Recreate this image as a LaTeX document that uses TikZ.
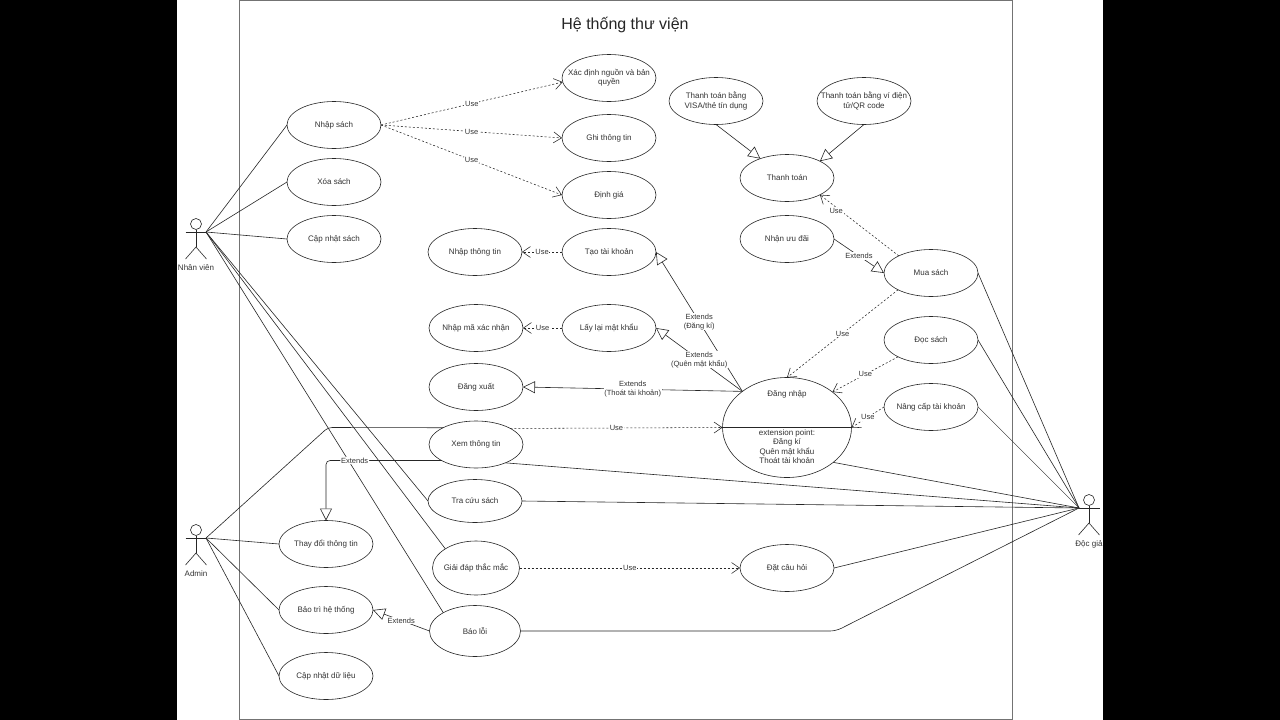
\documentclass[tikz,border=0pt]{standalone}
\usepackage{fontspec}
\setmainfont{Liberation Sans}
\usetikzlibrary{arrows.meta,shapes.geometric}
\tikzset{
  usecase/.style={ellipse,draw=black!85,fill=white,line width=.6pt,minimum width=94pt,minimum height=47pt,inner xsep=-14pt,inner ysep=0pt,outer sep=0pt,align=center,text=black!80,font=\fontsize{8}{9.5}\selectfont},
  assoc/.style={draw=black!85,line width=.6pt},
  uses/.style={draw=black!85,line width=.55pt,dash pattern=on 2pt off 2pt,-{Straight Barb[length=8pt,width=11pt]}},
  extends/.style={draw=black!85,line width=.6pt,-{Triangle[open,length=12pt,width=12pt,fill=white]}},
  lbl/.style={fill=white,inner sep=.8pt,align=center,text=black!80,font=\fontsize{7.5}{9}\selectfont},
  txt/.style={inner sep=0pt,align=center,text=black!80,font=\fontsize{8}{9.5}\selectfont}
}
\begin{document}
\begin{tikzpicture}[x=1pt,y=-1pt]
\useasboundingbox (0,0) rectangle (1280,720);
\fill[white] (0,0) rectangle (1280,720);
\fill[black] (0,0) rectangle (177,720);
\fill[black] (1103,0) rectangle (1280,720);
\draw[black!55,line width=1pt] (239,0) rectangle (1012,719);
\node[inner sep=0pt,text=black!85,font=\fontsize{16}{18}\selectfont] (title) at (625,25.5) {Hệ thống thư viện};

\node[usecase] (nhapsach) at (334,125) {Nhập sách};
\node[usecase] (xoasach) at (334,182) {Xóa sách};
\node[usecase] (capnhatsach) at (334,239) {Cập nhật sách};
\node[usecase] (xacdinh) at (609,78) {Xác định nguồn và bản\\quyền};
\node[usecase] (ghithongtin) at (609,138) {Ghi thông tin};
\node[usecase] (dinhgia) at (609,195) {Định giá};
\node[usecase] (nhapthongtin) at (475,252) {Nhập thông tin};
\node[usecase] (taotaikhoan) at (609,252) {Tạo tài khoản};
\node[usecase] (nhapma) at (476,328) {Nhập mã xác nhận};
\node[usecase] (laylai) at (609,328) {Lấy lại mật khẩu};
\node[usecase] (dangxuat) at (476,387) {Đăng xuất};
\node[usecase] (xemthongtin) at (476,444.5) {Xem thông tin};
\node[usecase,minimum height=43pt] (tracuu) at (475,501) {Tra cứu sách};
\node[usecase,minimum width=87pt,minimum height=54pt] (giaidap) at (476,568) {Giải đáp thắc mắc};
\node[usecase,minimum width=91pt,minimum height=51pt] (baoloi) at (475,631) {Báo lỗi};
\node[usecase] (thaydoi) at (326,544) {Thay đổi thông tin};
\node[usecase] (baotri) at (326,610) {Bảo trì hệ thống};
\node[usecase] (capnhatdulieu) at (326,676) {Cập nhật dữ liệu};
\node[usecase] (visa) at (716,101) {Thanh toán bằng\\VISA/thẻ tín dụng};
\node[usecase] (vidientu) at (864,101) {Thanh toán bằng ví điện\\tử/QR code};
\node[usecase] (thanhtoan) at (787,178) {Thanh toán};
\node[usecase] (uudai) at (787,239) {Nhận ưu đãi};
\node[usecase] (muasach) at (931,273) {Mua sách};
\node[usecase] (docsach) at (931,340) {Đọc sách};
\node[usecase] (nangcap) at (931,407) {Nâng cấp tài khoản};
\node[usecase] (datcauhoi) at (787,568) {Đặt câu hỏi};
\node[usecase,minimum width=129pt,minimum height=100pt] (dangnhap) at (787,427.5) {};
\draw[assoc] (dangnhap.west) -- (dangnhap.east);
\node[txt] (dangnhaptxt) at (787,394) {Đăng nhập};
\node[txt] (extpoint) at (787,446.5) {extension point:\\Đăng kí\\Quên mật khẩu\\Thoát tài khoản};

\foreach \nm/\x/\y/\lab in {nv/196/232/Nhân viên,ad/196/538/Admin,dg/1089/508/Độc giả} {
  \node[circle,draw=black!85,fill=white,line width=.6pt,minimum size=11pt,inner sep=0pt] (\nm head) at (\x,\y-8) {};
  \draw[assoc] (\nm head.south) -- (\x,\y+15) coordinate (\nm hip);
  \draw[assoc] (\x-10.5,\y) -- (\x+10.5,\y);
  \draw[assoc] (\x-10.5,\y+27) -- (\nm hip) -- (\x+10.5,\y+27);
  \node[txt] (\nm label) at (\x,\y+36) {\lab};
}
\coordinate (nhanvien) at (206,232);
\coordinate (admin) at (206,538);
\coordinate (docgia) at (1079,508);
\coordinate (adminelbow) at (328,427.5);
\coordinate (baoloielbow) at (836,631);

\draw[assoc] (nhanvien) -- (nhapsach.west);
\draw[assoc] (nhanvien) -- (xoasach.west);
\draw[assoc] (nhanvien) -- (capnhatsach.west);
\draw[assoc] (nhanvien) -- (tracuu.west);
\draw[assoc] (nhanvien) -- (giaidap.148);
\draw[assoc] (nhanvien) -- (baoloi.150);

\draw[assoc,rounded corners=4pt] (admin) -- (adminelbow) -- (xemthongtin.153);
\draw[assoc] (admin) -- (thaydoi.west);
\draw[assoc] (admin) -- (baotri.west);
\draw[assoc] (admin) -- (capnhatdulieu.west);

\draw[assoc] (docgia) -- (muasach.east);
\draw[assoc] (docgia) -- (docsach.east);
\draw[assoc,line width=.35pt] (docgia) -- (nangcap.east);
\draw[assoc] (docgia) -- (dangnhap.323);
\draw[assoc] (docgia) -- (xemthongtin.328);
\draw[assoc] (docgia) -- (tracuu.east);
\draw[assoc] (docgia) -- (datcauhoi.east);
\draw[assoc,rounded corners=6pt] (docgia) -- (baoloielbow) -- (baoloi.east);

\draw[uses] (nhapsach.east) -- node[lbl] (use1) {Use} (xacdinh.185);
\draw[uses] (nhapsach.east) -- node[lbl] (use2) {Use} (ghithongtin.west);
\draw[uses] (nhapsach.east) -- node[lbl] (use3) {Use} (dinhgia.west);
\draw[uses] (taotaikhoan.west) -- node[lbl] (use4) {Use} (nhapthongtin.east);
\draw[uses] (laylai.west) -- node[lbl] (use5) {Use} (nhapma.east);
\draw[uses] (xemthongtin.25) -- node[lbl] (use6) {Use} (dangnhap.west);
\draw[uses] (giaidap.east) -- node[lbl] (use7) {Use} (datcauhoi.west);
\draw[uses] (muasach.152) -- node[lbl,pos=.73,xshift=-5pt] (use8) {Use} (thanhtoan.333);
\draw[uses] (muasach.207) -- node[lbl] (use9) {Use} (dangnhap.north);
\draw[uses] (docsach.207) -- node[lbl] (use10) {Use} (dangnhap.38);
\draw[uses] (nangcap.west) -- node[lbl] (use11) {Use} (dangnhap.east);

\draw[extends] (visa.south) -- (thanhtoan.144);
\draw[extends] (vidientu.south) -- (thanhtoan.27);
\draw[extends] (uudai.east) -- node[lbl] (ext1) {Extends} (muasach.west);
\draw[extends] (dangnhap.141) -- node[lbl] (ext2) {Extends\\(Đăng kí)} (taotaikhoan.east);
\draw[extends] (dangnhap.141) -- node[lbl] (ext3) {Extends\\(Quên mật khẩu)} (laylai.east);
\draw[extends] (dangnhap.141) -- node[lbl] (ext4) {Extends\\(Thoát tài khoản)} (dangxuat.east);
\draw[extends,rounded corners=4pt] (xemthongtin.205) -| node[lbl,pos=.376] (ext5) {Extends} (thaydoi.north);
\draw[extends] (baoloi.west) -- node[lbl] (ext6) {Extends} (baotri.east);
\end{tikzpicture}
\end{document}
